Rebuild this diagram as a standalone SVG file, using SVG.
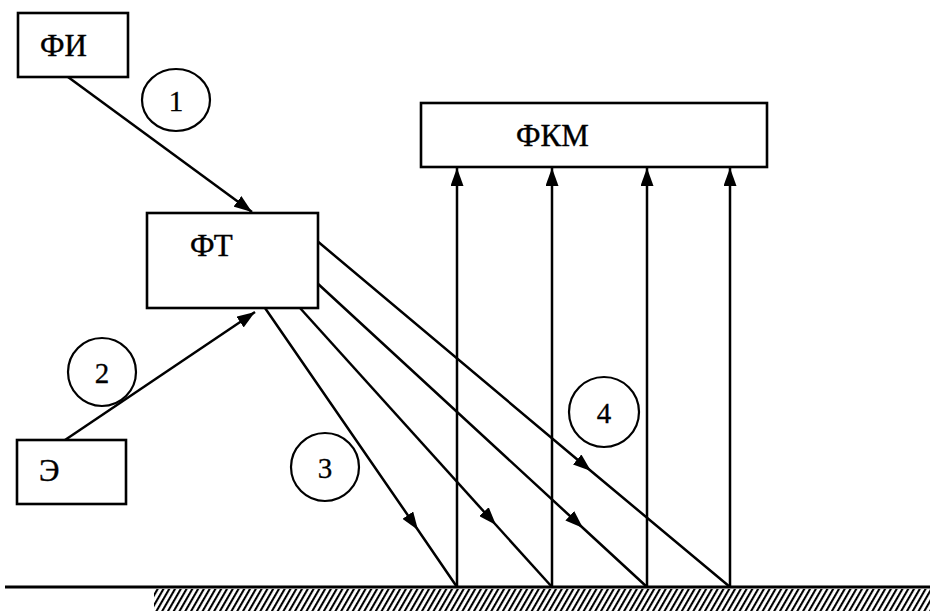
<svg xmlns="http://www.w3.org/2000/svg" width="930" height="611" viewBox="0 0 930 611">
<style>
.box{fill:#fff;stroke:#000;stroke-width:2.6}
.lbl{font-family:"Liberation Serif","Times New Roman",serif;font-size:31px;fill:#000;stroke:#000;stroke-width:0.4}
.num{font-family:"Liberation Serif","Times New Roman",serif;font-size:29px;fill:#000;text-anchor:middle;stroke:#000;stroke-width:0.3}
.circ{fill:none;stroke:#000;stroke-width:2.2}
.ln{fill:none;stroke:#000;stroke-width:2.5}
</style>
<defs>
<marker id="ah" viewBox="0 0 18 13" refX="18" refY="6.5" markerWidth="18" markerHeight="13" markerUnits="userSpaceOnUse" orient="auto">
<path d="M0,0 L18,6.5 L0,13 Z" fill="#000"/>
</marker>
<pattern id="hatch" patternUnits="userSpaceOnUse" width="5" height="10" patternTransform="rotate(30)">
<line x1="1" y1="0" x2="1" y2="10" stroke="#000" stroke-width="2.2"/>
</pattern>
</defs>
<g id="ground">
<line x1="5" y1="587" x2="930" y2="587" stroke="#000" stroke-width="3"/>
<rect x="154" y="589" width="776" height="22" fill="url(#hatch)"/>
</g>
<g id="connectors">
<line class="ln" x1="68" y1="77" x2="252" y2="212" marker-end="url(#ah)"/>
<line class="ln" x1="65" y1="440" x2="255" y2="312" marker-end="url(#ah)"/>
<path class="ln" d="M265,308 L418,530 L457,587" marker-mid="url(#ah)"/>
<path class="ln" d="M300,308 L496,525 L552,587" marker-mid="url(#ah)"/>
<path class="ln" d="M316,282 L583,528 L647,587" marker-mid="url(#ah)"/>
<path class="ln" d="M316,240 L591,471 L730,587" marker-mid="url(#ah)"/>
<line class="ln" x1="457" y1="587" x2="457" y2="168" marker-end="url(#ah)"/>
<line class="ln" x1="552" y1="587" x2="552" y2="168" marker-end="url(#ah)"/>
<line class="ln" x1="647" y1="587" x2="647" y2="168" marker-end="url(#ah)"/>
<line class="ln" x1="730" y1="587" x2="730" y2="168" marker-end="url(#ah)"/>
</g>
<g id="node-fi">
<rect class="box" x="18" y="13" width="110" height="64"/>
<text class="lbl" x="40" y="56">ФИ</text>
</g>
<g id="node-ft">
<rect class="box" x="147" y="213" width="171" height="95"/>
<text class="lbl" x="190" y="256">ФТ</text>
</g>
<g id="node-e">
<rect class="box" x="17" y="440" width="109" height="64"/>
<text class="lbl" x="39" y="481">Э</text>
</g>
<g id="node-fkm">
<rect class="box" x="421" y="103" width="346" height="64"/>
<text class="lbl" x="516" y="146">ФКМ</text>
</g>
<g id="label-1">
<ellipse class="circ" cx="176" cy="100" rx="34" ry="31"/>
<text class="num" x="176" y="111">1</text>
</g>
<g id="label-2">
<circle class="circ" cx="102" cy="372" r="34"/>
<text class="num" x="102" y="383">2</text>
</g>
<g id="label-3">
<circle class="circ" cx="325" cy="467" r="34"/>
<text class="num" x="325" y="478">3</text>
</g>
<g id="label-4">
<circle class="circ" cx="604" cy="412" r="35"/>
<text class="num" x="604" y="423">4</text>
</g>
</svg>
